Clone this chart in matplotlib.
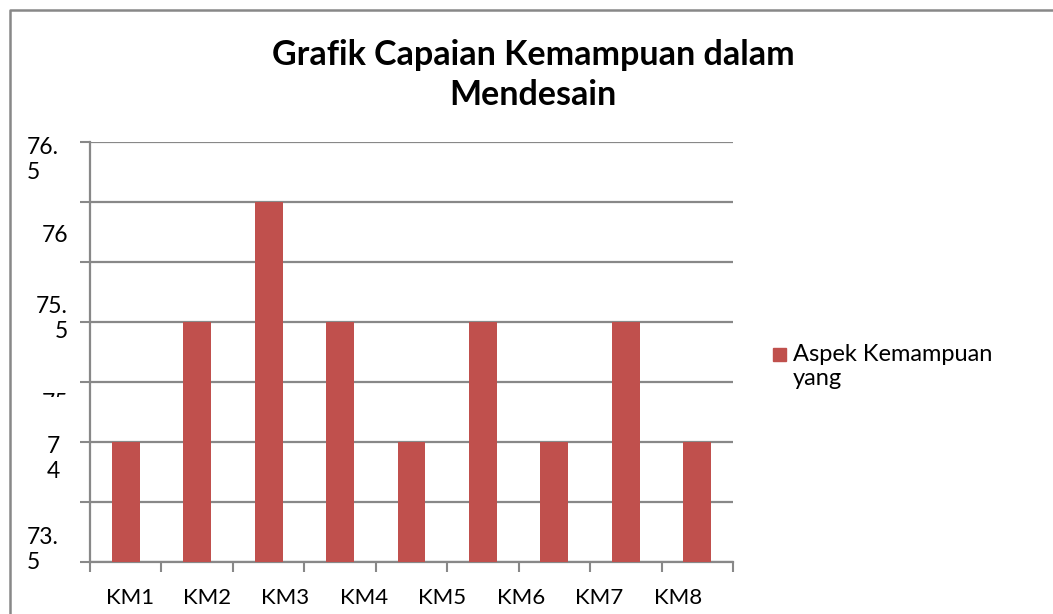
import matplotlib.pyplot as plt
from matplotlib.lines import Line2D
from matplotlib.patches import Rectangle
from matplotlib import transforms
import numpy as np

plt.rcParams['font.family'] = ['Lato', 'DejaVu Sans']

# nine bars, but the export only shows eight category labels
values = [74.5, 75.5, 76.5, 75.5, 74.5, 75.5, 74.5, 75.5, 74.5]
categories = ['KM1', 'KM2', 'KM3', 'KM4', 'KM5', 'KM6', 'KM7', 'KM8']
cat_pos = [0.062, 0.182, 0.303, 0.426, 0.547, 0.670, 0.792, 0.915]  # axes fraction
series_name = 'Aspek Kemampuan\nyang'
title = 'Grafik Capaian Kemampuan dalam\nMendesain'

# garbled (wrapped) y labels as exported, with their vertical position in data units
ylabel_texts = ['76.\n5', '76', '75.\n5', '75', '7\n4', '73.\n5']
ylabel_pos = [76.85, 76.217, 75.525, 74.82, 74.358, 73.6]
ylabel_align = ['left', 'right', 'right', 'right', 'center', 'left']

ymin, ymax, ystep = 73.5, 77.0, 0.5

W, H = 1053, 614
fig = plt.figure(figsize=(W / 100, H / 100), dpi=100)
ax = fig.add_axes([90 / W, (H - 562) / H, (733 - 90) / W, (562 - 142) / H])

grey = '#888888'
x = np.arange(len(values))
ax.bar(x, values, width=0.39, color='#C0504D', zorder=3)
ax.set_xlim(-0.5, len(values) - 0.5)
ax.set_ylim(ymin, ymax)

ax.set_yticks(np.arange(ymin, ymax + 0.01, ystep))
ax.set_yticklabels([])
ax.yaxis.grid(True, color=grey, lw=1.6)
ax.set_axisbelow(True)
ax.set_xticks(np.arange(-0.5, len(values), 1.0))
ax.set_xticklabels([])
ax.tick_params(axis='both', which='major', length=7, width=1.5, color=grey, direction='out')

for s in ['top', 'right']:
    ax.spines[s].set_visible(False)
for s in ['left', 'bottom']:
    ax.spines[s].set_color(grey)
    ax.spines[s].set_linewidth(1.6)

# category labels
for lab, xp in zip(categories, cat_pos):
    ax.text(xp, -36 / 420, lab, transform=ax.transAxes, ha='center', va='center',
            fontsize=16)

# y labels placed in figure x / data y
trans = transforms.blended_transform_factory(fig.transFigure, ax.transData)
xpos = {'left': 27 / W, 'right': 68 / W, 'center': 53 / W}
for txt, yp, al in zip(ylabel_texts, ylabel_pos, ylabel_align):
    t = fig.text(xpos[al], yp, txt, transform=trans, ha=al, va='center',
                 fontsize=16.5, linespacing=1.25)
    if txt == '75':
        t.set_clip_path(Rectangle((0, (H - 397) / H), 80 / W, 40 / H,
                                  transform=fig.transFigure))

fig.text(533 / W, (H - 75) / H, title, ha='center', va='center', fontsize=24.5,
         fontweight='bold', linespacing=1.3)

# legend
fig.patches.append(Rectangle((773 / W, (H - 361) / H), 13 / W, 13 / H,
                             color='#C0504D', transform=fig.transFigure))
fig.text(793 / W, (H - 344) / H, series_name, ha='left', va='top', fontsize=17,
         linespacing=1.2)

# outer chart frame (top and left edges)
fig.lines.append(Line2D([10 / W, 10 / W, 1.0], [0, (H - 9.5) / H, (H - 9.5) / H],
                        color=grey, lw=1.8, transform=fig.transFigure))

fig.savefig('out.png', dpi=100)
